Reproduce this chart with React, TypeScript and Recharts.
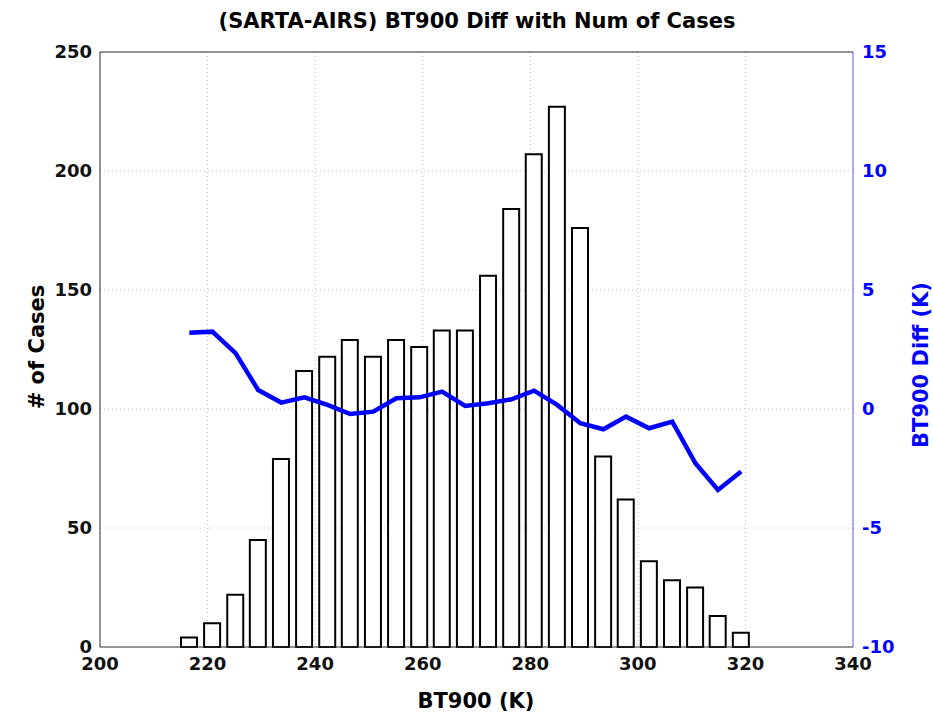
import {
  Bar,
  CartesianGrid,
  ComposedChart,
  Line,
  ReferenceLine,
  XAxis,
  YAxis,
} from "recharts";

// histogram bin centres (K)
const BIN_CENTERS = [
  216.6, 220.9, 225.2, 229.4, 233.7, 238.0, 242.3, 246.5, 250.8, 255.1, 259.4,
  263.6, 267.9, 272.2, 276.5, 280.7, 285.0, 289.3, 293.6, 297.8, 302.1, 306.4,
  310.7, 314.9, 319.2,
];
const NUM_CASES = [
  4, 10, 22, 45, 79, 116, 122, 129, 122, 129, 126, 133, 133, 156, 184, 207, 227,
  176, 80, 62, 36, 28, 25, 13, 6,
];
const BT_DIFF = [
  3.2, 3.25, 2.35, 0.8, 0.27, 0.49, 0.17, -0.21, -0.11, 0.45, 0.49, 0.73, 0.13,
  0.24, 0.41, 0.77, 0.17, -0.6, -0.85, -0.32, -0.81, -0.53, -2.28, -3.4, -2.63,
];

const X_TICKS = [200, 220, 240, 260, 280, 300, 320, 340];
const LEFT_TICKS = [0, 50, 100, 150, 200, 250];
const RIGHT_TICKS = [-10, -5, 0, 5, 10, 15];

const BLUE = "#0000ff";
const FONT = "'DejaVu Sans', 'Liberation Sans', sans-serif";

const tickStyle = { fontSize: 18, fontWeight: 700, fontFamily: FONT, fill: "#111" };

const labelStyle: React.CSSProperties = {
  position: "absolute",
  fontFamily: FONT,
  fontWeight: 700,
  fontSize: 21,
  whiteSpace: "nowrap",
  transform: "translate(-50%, -50%)",
};

export default function App() {
  const data = BIN_CENTERS.map((bt, i) => ({
    bt,
    cases: NUM_CASES[i],
    diff: BT_DIFF[i],
  }));

  return (
    <div
      style={{
        position: "absolute",
        left: 0,
        top: 0,
        width: 933,
        height: 714,
        background: "#fff",
      }}
    >
      <ComposedChart
        width={933}
        height={714}
        data={data}
        margin={{ top: 52, right: 30, bottom: 37, left: 40 }}
      >
        <CartesianGrid yAxisId="left" stroke="#c4c4c4" strokeDasharray="1 3" />
        <XAxis
          dataKey="bt"
          type="number"
          domain={[200, 340]}
          ticks={X_TICKS}
          allowDataOverflow
          height={30}
          tickSize={0}
          tickMargin={10}
          tick={tickStyle}
          axisLine={{ stroke: "#333" }}
        />
        <YAxis
          yAxisId="left"
          domain={[0, 250]}
          ticks={LEFT_TICKS}
          width={60}
          tickSize={0}
          tickMargin={8}
          tick={tickStyle}
          axisLine={{ stroke: "#333" }}
        />
        <YAxis
          yAxisId="right"
          orientation="right"
          domain={[-10, 15]}
          ticks={RIGHT_TICKS}
          width={50}
          tickSize={0}
          tickMargin={9}
          tick={{ ...tickStyle, fill: BLUE }}
          axisLine={{ stroke: "#5c5cff" }}
        />
        <ReferenceLine yAxisId="left" y={250} stroke="#333" />
        <Bar
          yAxisId="left"
          dataKey="cases"
          fill="#fff"
          stroke="#000"
          strokeWidth={2}
          barSize={16}
          isAnimationActive={false}
        />
        <Line
          yAxisId="right"
          dataKey="diff"
          type="linear"
          stroke={BLUE}
          strokeWidth={4.5}
          dot={false}
          activeDot={false}
          isAnimationActive={false}
        />
      </ComposedChart>

      <div style={{ ...labelStyle, left: 477, top: 21 }}>
        (SARTA-AIRS) BT900 Diff with Num of Cases
      </div>
      <div style={{ ...labelStyle, left: 476, top: 701 }}>BT900 (K)</div>
      <div
        style={{
          ...labelStyle,
          left: 37,
          top: 347,
          transform: "translate(-50%, -50%) rotate(-90deg)",
        }}
      >
        # of Cases
      </div>
      <div
        style={{
          ...labelStyle,
          left: 921,
          top: 365,
          color: BLUE,
          transform: "translate(-50%, -50%) rotate(-90deg)",
        }}
      >
        BT900 Diff (K)
      </div>
    </div>
  );
}
